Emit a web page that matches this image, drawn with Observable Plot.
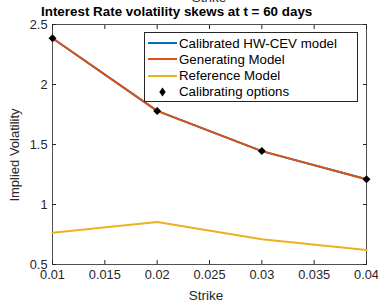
<!DOCTYPE html>
<html><head><meta charset="utf-8">
<script src="https://cdn.jsdelivr.net/npm/d3@7"></script>
<script src="https://cdn.jsdelivr.net/npm/@observablehq/plot@0.6"></script>
<style>
body{margin:0;background:#fff;font-family:"Liberation Sans",Arial,sans-serif;}
#wrap{position:relative;width:378px;height:303px;overflow:hidden;}
#title{position:absolute;left:41px;top:4px;white-space:nowrap;font-weight:bold;font-size:13.4px;color:#000;}
#ghost{position:absolute;left:0;width:418px;top:-10px;text-align:center;font-size:13.5px;color:#262626;}
#xlab{position:absolute;left:0;width:412px;top:288px;text-align:center;font-size:13.5px;color:#262626;}
#ylab{position:absolute;left:14px;top:155px;transform:translate(-50%,-50%) rotate(-90deg);white-space:nowrap;font-size:13px;color:#262626;}
#legend{position:absolute;left:144px;top:32px;width:214px;height:70px;border:1px solid #262626;background:#fff;font-size:13.3px;color:#000;box-sizing:border-box;}
.row{position:absolute;left:0;height:16px;display:flex;align-items:center;white-space:nowrap;}
.row svg{display:block;}
</style></head>
<body><div id="wrap"><div id="chart"></div><div id="ghost">Strike</div><div id="title">Interest Rate volatility skews at t = 60 days</div><div id="xlab"></div><div id="ylab"></div><div id="legend"></div></div>
<script>
const strikes = [0.01, 0.02, 0.03, 0.04];
const calibrated = [2.385, 1.78, 1.445, 1.21];
const generating = [2.385, 1.78, 1.445, 1.21];
const reference = [0.765, 0.855, 0.71, 0.62];
const optionVols = [2.385, 1.78, 1.445, 1.21];
const xTicks = [0.01, 0.015, 0.02, 0.025, 0.03, 0.035, 0.04];
const yTicks = [0.5, 1, 1.5, 2, 2.5];
const seriesNames = ["Calibrated HW-CEV model", "Generating Model", "Reference Model", "Calibrating options"];
const colors = ["#0072BD", "#D95319", "#EDB120", "#000000"];
const xLabel = "Strike";
const yLabel = "Implied Volatility";

const rows = (ys) => strikes.map((k, i) => ({k, v: ys[i]}));
const axisColor = "#262626";

const chart = Plot.plot({
  width: 378, height: 303,
  marginLeft: 52, marginRight: 12, marginTop: 24, marginBottom: 39,
  style: {fontFamily: "Liberation Sans, Arial, sans-serif", fontSize: "12.5px", color: axisColor, background: "#fff"},
  x: {domain: [0.01, 0.04]},
  y: {domain: [0.5, 2.5]},
  marks: [
    Plot.frame({stroke: axisColor, strokeWidth: 0.8}),
    Plot.axisX({ticks: xTicks, tickFormat: d => String(+d.toFixed(3)), tickSize: -4, tickPadding: 9, label: null, fontSize: 12.8, stroke: axisColor}),
    Plot.axisX({anchor: "top", ticks: xTicks, tickSize: -4, tickFormat: () => "", label: null, stroke: axisColor}),
    Plot.axisY({ticks: yTicks, tickFormat: d => String(d), tickSize: -4, tickPadding: 9, label: null, fontSize: 12.8, stroke: axisColor}),
    Plot.axisY({anchor: "right", ticks: yTicks, tickSize: -4, tickFormat: () => "", label: null, stroke: axisColor}),
    Plot.line(rows(reference), {x: "k", y: "v", stroke: colors[2], strokeWidth: 2}),
    Plot.line(rows(calibrated), {x: "k", y: "v", stroke: colors[0], strokeWidth: 2}),
    Plot.line(rows(generating), {x: "k", y: "v", stroke: colors[1], strokeWidth: 2}),
    Plot.dot(rows(optionVols), {x: "k", y: "v", symbol: "diamond2", fill: "#000", stroke: "none", r: 3.6})
  ]
});
document.getElementById("chart").appendChild(chart);
document.getElementById("xlab").textContent = xLabel;
document.getElementById("ylab").textContent = yLabel;

const leg = document.getElementById("legend");
seriesNames.forEach((name, i) => {
  const row = document.createElement("div");
  row.className = "row";
  row.style.top = (2 + i * 16.3) + "px";
  const sw = i < 3
    ? `<svg width="34" height="16"><line x1="3" x2="32" y1="8" y2="8" stroke="${colors[i]}" stroke-width="2"/></svg>`
    : `<svg width="34" height="16"><path d="M17.5,3.5L20.7,8L17.5,12.5L14.3,8Z" fill="#000"/></svg>`;
  row.innerHTML = sw + `<span>${name}</span>`;
  leg.appendChild(row);
});
</script></body></html>
